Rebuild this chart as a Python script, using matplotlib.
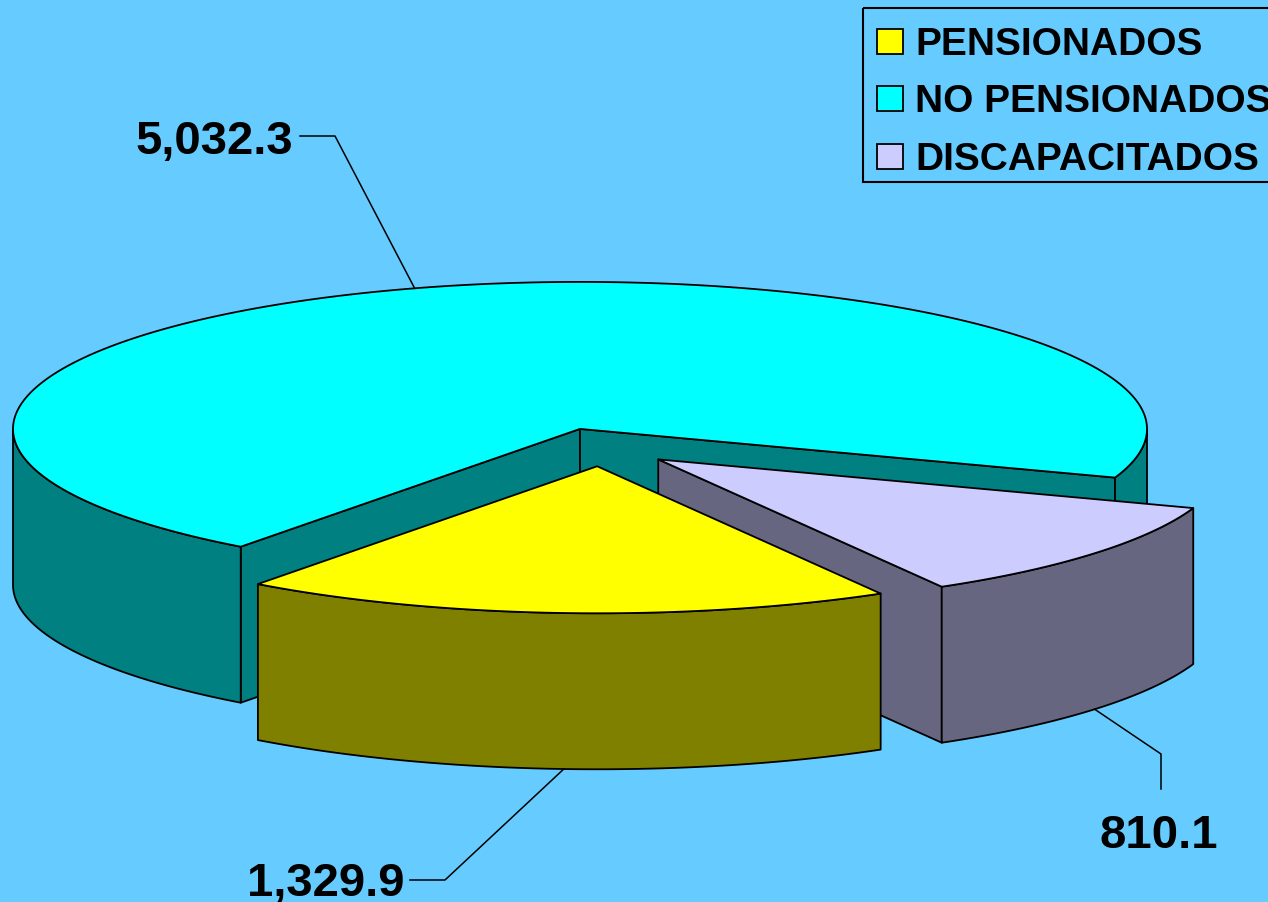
import numpy as np
import matplotlib.pyplot as plt
from matplotlib.patches import Polygon, Rectangle

# Data
categories = ['PENSIONADOS', 'NO PENSIONADOS', 'DISCAPACITADOS']
values = [1329.9, 5032.3, 810.1]
value_labels = ['1,329.9', '5,032.3', '810.1']
top_colors = ['#FFFF00', '#00FFFF', '#CCCCFF']
side_colors = ['#808000', '#008080', '#666680']

# 3D pie geometry (pixel units)
cx, cy = 601.5, 448.2
rx, ry = 567, 147
depth = 156
explode = 0.13
start_angle = 300.0   # first slice starts here, slices go clockwise

plt.rcParams['font.family'] = ['Liberation Sans', 'DejaVu Sans']

fig = plt.figure(figsize=(12.68, 9.03), dpi=100)
fig.patch.set_facecolor('#66CCFF')
ax = fig.add_axes([0, 0, 1, 1])
ax.set_xlim(0, 1268)
ax.set_ylim(903, 0)
ax.axis('off')

vals = np.array(values)
fracs = vals / vals.sum()
cum = np.concatenate([[0], np.cumsum(fracs)])


def pt(c, th, z=0.0):
    t = np.radians(th)
    return np.column_stack([c[0] + rx * np.cos(t), c[1] - ry * np.sin(t) + z])


slices = []
for i in range(len(values)):
    t1 = start_angle - cum[i] * 360        # ccw end
    t2 = t1 - fracs[i] * 360               # cw end
    mid = (t1 + t2) / 2
    m = np.radians(mid)
    c = (cx + explode * rx * np.cos(m), cy - explode * ry * np.sin(m))
    slices.append(dict(i=i, t1=t1, t2=t2, mid=mid, c=c))

# back to front
order = sorted(slices, key=lambda s: -np.sin(np.radians(s['mid'])))
lw = 1.3
for s in order:
    i, t1, t2, c = s['i'], s['t1'], s['t2'], s['c']
    # radial walls facing the viewer
    for th, vis in ((t1, np.cos(np.radians(t1)) < 0), (t2, np.cos(np.radians(t2)) > 0)):
        if vis:
            e = pt(c, th)[0]
            quad = [c, e, (e[0], e[1] + depth), (c[0], c[1] + depth)]
            ax.add_patch(Polygon(quad, closed=True, fc=side_colors[i], ec='black', lw=lw, joinstyle='round'))
    # outer curved wall, front part only
    ths = np.linspace(t2, t1, 400)
    front = np.sin(np.radians(ths)) <= 0
    seg = []
    segs = []
    for th, f in zip(ths, front):
        if f:
            seg.append(th)
        elif seg:
            segs.append(seg)
            seg = []
    if seg:
        segs.append(seg)
    for sg in segs:
        sg = np.array(sg)
        top = pt(c, sg)
        bot = pt(c, sg[::-1], depth)
        ax.add_patch(Polygon(np.vstack([top, bot]), closed=True, fc=side_colors[i], ec='black', lw=lw, joinstyle='round'))
    # top face
    arc = pt(c, ths)
    ax.add_patch(Polygon(np.vstack([[c], arc]), closed=True, fc=top_colors[i], ec='black', lw=lw, joinstyle='round'))

# data labels with leader lines
label_font = dict(fontsize=34, fontweight='bold', color='black')
for s in slices:
    i, c, mid = s['i'], s['c'], s['mid']
    if np.sin(np.radians(mid)) > 0:
        anchor = pt(c, mid)[0]
    else:
        anchor = pt(c, mid, depth)[0]
    if categories[i] == 'NO PENSIONADOS':
        elbow, end = (335, 137), (300, 137)
        ax.text(293, 154, value_labels[i], ha='right', va='baseline', **label_font)
    elif categories[i] == 'PENSIONADOS':
        elbow, end = (445, 881), (410, 881)
        ax.text(405, 896, value_labels[i], ha='right', va='baseline', **label_font)
    else:
        elbow, end = (1161, 755), (1161, 790)
        ax.text(1159, 848, value_labels[i], ha='center', va='baseline', **label_font)
    ax.plot([anchor[0], elbow[0], end[0]], [anchor[1], elbow[1], end[1]], color='black', lw=1.1)

# legend (drawn by hand so it runs off the right edge like the original)
ax.add_patch(Rectangle((863, 9), 500, 174, fill=False, ec='black', lw=1.5))
row_base = [55, 112, 170]
for i, name in enumerate(categories):
    ax.add_patch(Rectangle((877, row_base[i] - 25), 26, 25, fc=top_colors[i], ec='black', lw=1.3))
    ax.text(915, row_base[i], name, ha='left', va='baseline', fontsize=28, fontweight='bold', color='black')

plt.savefig('out.png', dpi=100, facecolor=fig.get_facecolor())
